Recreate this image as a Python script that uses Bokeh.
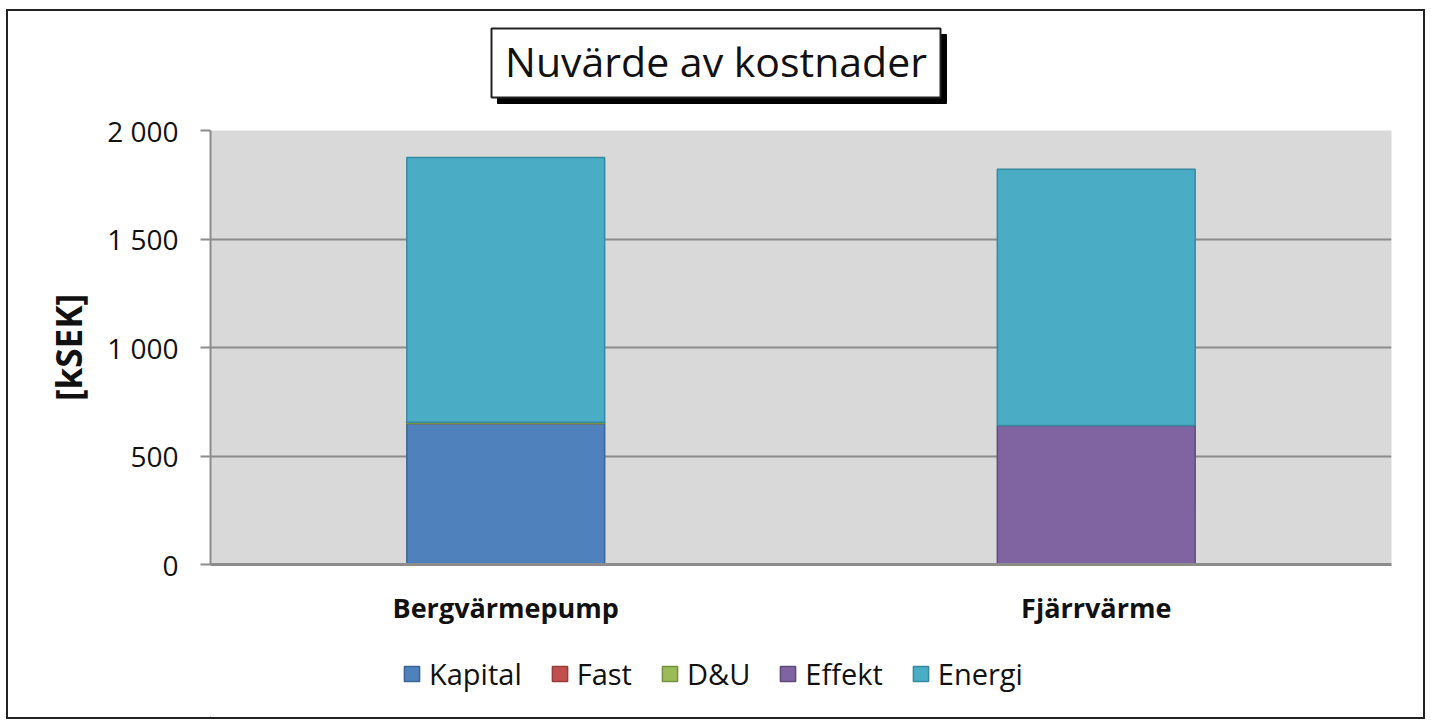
from bokeh.plotting import figure
from bokeh.models import Legend, FactorRange, Range1d, CustomJSTickFormatter, ColumnDataSource
from bokeh.layouts import column
from bokeh.embed import file_html
from bokeh.resources import INLINE
from bokeh.core.properties import value

categories = ["Bergvärmepump", "Fjärrvärme"]
series = ["Kapital", "Fast", "D&U", "Effekt", "Energi"]
kapital = [650, 0]
fast = [0, 0]
du = [6, 0]
effekt = [0, 640]
energi = [1220, 1182]
colors = ["#4f81bd", "#c0504d", "#9bbb59", "#8064a2", "#4bacc6"]
edges = ["#3c6496", "#963c3a", "#76913f", "#5f4a7a", "#358aa0"]
y_ticks = [0, 500, 1000, 1500, 2000]
title_text = "Nuvärde av kostnader"

W = 1415
TOP_H, MAIN_H, BOT_H = 99, 530, 77
LEFT, RIGHT = 202, 32


def bare(height, xr, yr):
    f = figure(width=W, height=height, x_range=xr, y_range=yr, output_backend="svg",
               toolbar_location=None, x_axis_location=None, y_axis_location=None,
               min_border_left=LEFT, min_border_right=RIGHT, min_border_top=0, min_border_bottom=0)
    f.grid.grid_line_color = None
    f.outline_line_color = None
    f.background_fill_color = "white"
    f.border_fill_color = "white"
    return f


# ---- title strip (x range equals canvas pixels across the frame) ----
top = bare(TOP_H, Range1d(LEFT, W - RIGHT), Range1d(0, TOP_H))
top.quad(left=[489], right=[938], bottom=[7], top=[76], fill_color="black", line_color="black")
top.quad(left=[483], right=[932], bottom=[13], top=[82], fill_color="white", line_color="#222", line_width=2)
top.text(x=[707.5], y=[49.5], text=[title_text], text_align="center", text_baseline="middle",
         text_font=value("Open Sans"), text_font_size="41px", text_color="#111")

# ---- main chart ----
p = figure(x_range=FactorRange(*categories, range_padding=0), y_range=Range1d(0, 2000),
           width=W, height=MAIN_H, output_backend="svg", toolbar_location=None,
           min_border_left=LEFT, min_border_right=RIGHT, min_border_top=20, min_border_bottom=76)
p.background_fill_color = "#d9d9d9"
p.border_fill_color = "white"
p.outline_line_color = None

data = {"cat": categories, "Kapital": kapital, "Fast": fast, "D&U": du, "Effekt": effekt, "Energi": energi}
rs = p.vbar_stack(series, x="cat", width=0.335, source=data, fill_color=colors, line_color=edges, line_width=1.5)

p.xgrid.grid_line_color = None
p.ygrid.grid_line_color = "#8c8c8c"
p.ygrid.grid_line_width = 2
p.yaxis.ticker = y_ticks
p.yaxis.formatter = CustomJSTickFormatter(code="return tick >= 1000 ? Math.floor(tick/1000) + ' ' + String(tick % 1000).padStart(3, '0') : String(tick);")
p.yaxis.axis_line_color = "#8c8c8c"
p.yaxis.axis_line_width = 2
p.yaxis.major_tick_line_color = "#8c8c8c"
p.yaxis.major_tick_line_width = 2
p.yaxis.major_tick_out = 10
p.yaxis.major_tick_in = 0
p.yaxis.minor_tick_line_color = None
p.yaxis.major_label_text_font = "Open Sans"
p.yaxis.major_label_text_font_size = "28px"
p.yaxis.major_label_text_color = "#111"
p.yaxis.major_label_standoff = 22
p.yaxis.axis_label = "[kSEK]"
p.yaxis.axis_label_text_font = "Open Sans"
p.yaxis.axis_label_text_font_style = "bold"
p.yaxis.axis_label_text_font_size = "35px"
p.yaxis.axis_label_text_color = "#111"
p.yaxis.axis_label_standoff = 12

p.xaxis.axis_line_color = "#8c8c8c"
p.xaxis.axis_line_width = 3
p.xaxis.major_tick_line_color = None
p.xaxis.minor_tick_line_color = None
p.xaxis.major_label_text_font = "Open Sans"
p.xaxis.major_label_text_font_style = "bold"
p.xaxis.major_label_text_font_size = "27px"
p.xaxis.major_label_text_color = "#111"
p.xaxis.major_label_standoff = 18

# ---- legend strip ----
bot = bare(BOT_H, Range1d(0, 1), Range1d(0, 1))
offscreen = ColumnDataSource(data={"x": [-5], "top": [-5]})
items = []
for s, c, e in zip(series, colors, edges):
    r = bot.vbar(x="x", top="top", bottom=-6, width=0.1, source=offscreen,
                 fill_color=c, line_color=e, line_width=1.5)
    items.append((s, [r]))
legend = Legend(items=items, orientation="horizontal", location=(192, 24),
                label_text_font="Open Sans", label_text_font_size="29px", label_text_color="#111",
                glyph_width=19, glyph_height=19, spacing=28, label_standoff=8,
                border_line_color=None, background_fill_alpha=0, padding=0, margin=0)
bot.add_layout(legend, "center")

layout = column(top, p, bot, spacing=0, margin=(9, 0, 0, 6),
                styles={"border": "2px solid #222"})

open("out.html", "w").write(file_html(layout, INLINE))
